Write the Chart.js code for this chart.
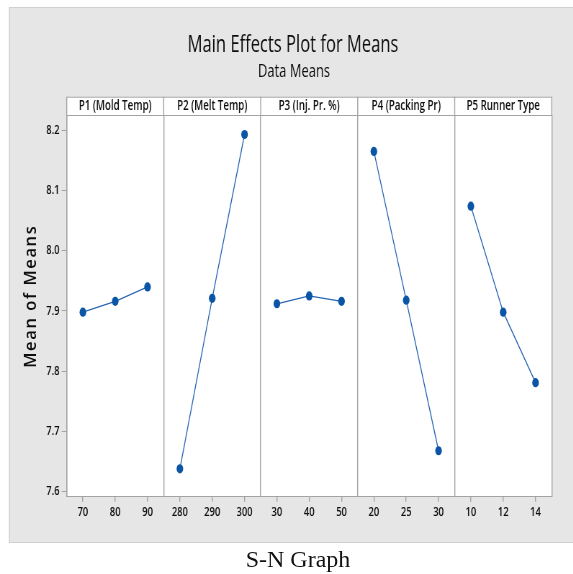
<!DOCTYPE html>
<html>
<head>
<meta charset="utf-8">
<script src="https://cdn.jsdelivr.net/npm/chart.js@4.4.1/dist/chart.umd.min.js"></script>
<style>
  html, body { margin: 0; padding: 0; background: #ffffff; }
  #wrap { position: relative; width: 573px; height: 574px; overflow: hidden; }
  #holder { position: absolute; left: 0; top: 0; transform-origin: 0 0; }
  #caption { position: absolute; left: 0; width: 596px; top: 545px; height: 28px; line-height: 28px;
             text-align: center; font-family: "Liberation Serif", "Times New Roman", serif; font-size: 24px; color: #111; }
</style>
</head>
<body>
<div id="wrap">
  <div id="holder"><canvas id="c"></canvas></div>
  <div id="caption">S-N Graph</div>
</div>
<script>
// ---- data ----
const titleText = 'Main Effects Plot for Means';
const subtitleText = 'Data Means';
const yTitle = 'Mean of Means';
const factorNames = ['P1 (Mold Temp)', 'P2 (Melt Temp)', 'P3 (Inj. Pr. %)', 'P4 (Packing Pr)', 'P5 Runner Type'];
const levelsP1 = ['70', '80', '90'];
const levelsP2 = ['280', '290', '300'];
const levelsP3 = ['30', '40', '50'];
const levelsP4 = ['20', '25', '30'];
const levelsP5 = ['10', '12', '14'];
const meansP1 = [7.898, 7.916, 7.940];
const meansP2 = [7.638, 7.921, 8.193];
const meansP3 = [7.912, 7.925, 7.916];
const meansP4 = [8.165, 7.918, 7.668];
const meansP5 = [8.074, 7.898, 7.781];
const yTicks = [7.6, 7.7, 7.8, 7.9, 8.0, 8.1, 8.2];
const yMin = 7.5917, yMax = 8.2254;

const allLevels = [levelsP1, levelsP2, levelsP3, levelsP4, levelsP5];
const allMeans = [meansP1, meansP2, meansP3, meansP4, meansP5];

// ---- geometry (horizontal squeeze like the reference) ----
const S = 0.72;
const W = Math.round(573 / S);
const H = 574;
const X = v => v / S;
document.getElementById('holder').style.transform = 'scaleX(' + S + ')';

const FONT = '"Open Sans", "Noto Sans", sans-serif';
const GRID = '#a3a3a3';
const TXT = '#0d0d0d';

// panel start positions on a shared linear x axis
const panelStart = [];
let acc = 0;
allLevels.forEach(l => { panelStart.push(acc); acc += l.length; });
const xMax = acc;
const tickPos = [];
const tickLbl = {};
allLevels.forEach((l, i) => {
  tickPos.push(panelStart[i]);
  l.forEach((lab, j) => { const p = panelStart[i] + j + 0.5; tickPos.push(p); tickLbl[p] = lab; });
});
tickPos.push(xMax);
const isBoundary = v => !(v in tickLbl);

const datasets = allMeans.map((m, i) => ({
  label: factorNames[i],
  data: m.map((y, j) => ({ x: panelStart[i] + j + 0.5, y })),
  borderColor: '#2563b3',
  borderWidth: 1.3,
  pointBackgroundColor: '#0a55a6',
  pointBorderColor: '#0a55a6',
  pointRadius: 4.6,
  pointBorderWidth: 0,
  tension: 0,
  fill: false
}));

const decor = {
  id: 'decor',
  beforeDraw(chart) {
    const ctx = chart.ctx;
    ctx.save();
    ctx.fillStyle = '#ffffff';
    ctx.fillRect(0, 0, W, H);
    ctx.fillStyle = '#e6e6e6';
    ctx.fillRect(X(9), 7, W - X(9), 536);
    ctx.strokeStyle = '#cfcfcf';
    ctx.lineWidth = 1;
    ctx.beginPath();
    ctx.moveTo(X(9), 7.5); ctx.lineTo(W, 7.5);
    ctx.moveTo(X(9), 542.5); ctx.lineTo(W, 542.5);
    ctx.stroke();
    ctx.lineWidth = 1 / S;
    ctx.beginPath(); ctx.moveTo(X(9.5), 7); ctx.lineTo(X(9.5), 543); ctx.stroke();
    // white plot area
    const a = chart.chartArea;
    ctx.fillStyle = '#ffffff';
    ctx.fillRect(a.left, a.top, a.right - a.left, a.bottom - a.top);
    // title
    ctx.fillStyle = TXT;
    ctx.textAlign = 'center';
    ctx.textBaseline = 'alphabetic';
    ctx.font = '500 23px ' + FONT;
    ctx.fillText(titleText, X(293), 52);
    ctx.font = '500 18px ' + FONT;
    ctx.fillText(subtitleText, X(294), 77);
    ctx.restore();
  },
  afterDraw(chart) {
    const ctx = chart.ctx;
    const xs = chart.scales.x;
    const a = chart.chartArea;
    const top = 96.7;
    ctx.save();
    ctx.fillStyle = '#ffffff';
    ctx.fillRect(a.left, top, a.right - a.left, a.top - top);
    ctx.strokeStyle = GRID;
    ctx.lineWidth = 1;
    ctx.beginPath();
    ctx.moveTo(a.left, top + 0.5); ctx.lineTo(a.right, top + 0.5);
    ctx.moveTo(a.left, a.top + 0.5); ctx.lineTo(a.right, a.top + 0.5);
    ctx.stroke();
    ctx.lineWidth = 1 / S;
    ctx.beginPath();
    for (let i = 0; i <= factorNames.length; i++) {
      const px = xs.getPixelForValue(i < factorNames.length ? panelStart[i] : xMax);
      ctx.moveTo(px, top); ctx.lineTo(px, a.top);
    }
    ctx.stroke();
    ctx.fillStyle = TXT;
    ctx.font = '600 13.5px ' + FONT;
    ctx.textAlign = 'center';
    ctx.textBaseline = 'middle';
    factorNames.forEach((n, i) => {
      const x0 = xs.getPixelForValue(panelStart[i]);
      const x1 = xs.getPixelForValue(panelStart[i] + allLevels[i].length);
      ctx.fillText(n, (x0 + x1) / 2, (top + a.top) / 2 + 0.5);
    });
    // y title, undistorted
    ctx.translate(X(31), 297);
    ctx.scale(1 / S, 1);
    ctx.rotate(-Math.PI / 2);
    ctx.font = '600 16.5px ' + FONT;
    try { ctx.letterSpacing = '1.6px'; } catch (e) {}
    ctx.textAlign = 'center';
    ctx.textBaseline = 'middle';
    ctx.fillText(yTitle, 0.8, 0);
    ctx.restore();
  }
};

const canvas = document.getElementById('c');
canvas.width = W; canvas.height = H;
new Chart(canvas, {
  type: 'line',
  data: { datasets },
  options: {
    responsive: false,
    animation: false,
    devicePixelRatio: 1,
    layout: { padding: { left: X(66.7) - 40, right: W - X(551.7), top: 115, bottom: H - 496.7 - 30 } },
    plugins: { legend: { display: false }, tooltip: { enabled: false }, title: { display: false } },
    scales: {
      x: {
        type: 'linear', min: 0, max: xMax,
        afterBuildTicks: s => { s.ticks = tickPos.map(v => ({ value: v })); },
        afterFit: s => { s.height = 30; s.paddingLeft = 0; s.paddingRight = 0; },
        grid: {
          drawOnChartArea: true, drawTicks: true, tickLength: 5,
          color: c => (c.tick && isBoundary(c.tick.value)) ? GRID : 'rgba(0,0,0,0)',
          tickColor: c => (c.tick && isBoundary(c.tick.value)) ? 'rgba(0,0,0,0)' : GRID,
          lineWidth: 1 / S, tickWidth: 1 / S
        },
        border: { display: true, color: GRID, width: 1 },
        ticks: {
          autoSkip: false, maxRotation: 0, padding: 3,
          color: TXT, font: { family: FONT, size: 13, weight: '600' },
          callback: v => tickLbl[v] !== undefined ? tickLbl[v] : ''
        }
      },
      y: {
        type: 'linear', min: yMin, max: yMax,
        afterBuildTicks: s => { s.ticks = yTicks.map(v => ({ value: v })); },
        afterFit: s => { s.width = 40; s.paddingTop = 0; s.paddingBottom = 0; },
        grid: { drawOnChartArea: false, drawTicks: true, tickLength: X(5), color: GRID, lineWidth: 1 },
        border: { display: true, color: GRID, width: 1 / S },
        ticks: {
          padding: 3, color: TXT, font: { family: FONT, size: 13, weight: '600' },
          callback: v => v.toFixed(1)
        }
      }
    }
  },
  plugins: [decor]
});
</script>
</body>
</html>
